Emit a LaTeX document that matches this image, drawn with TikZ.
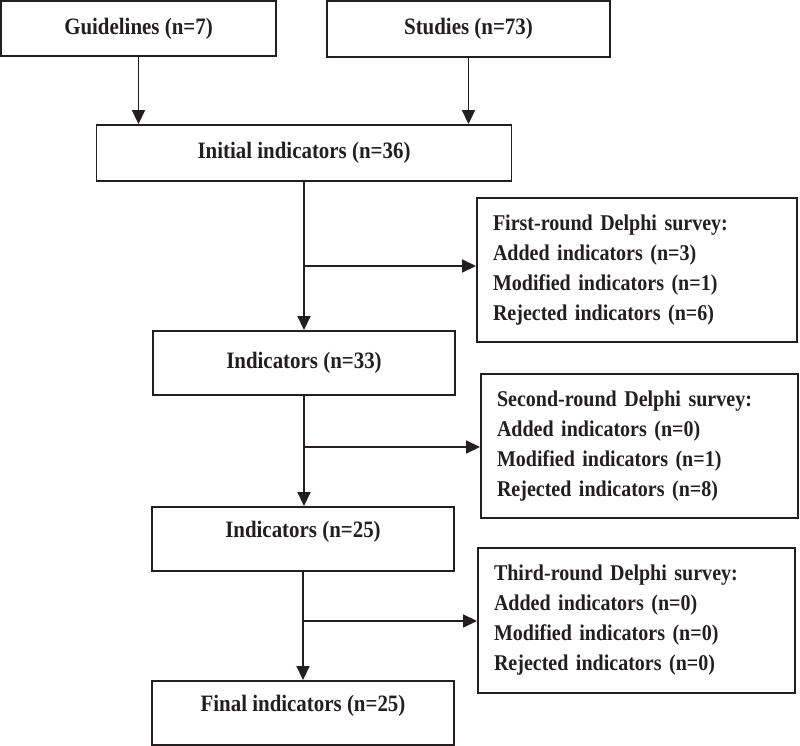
\documentclass[tikz,border=0pt]{standalone}
\usepackage{fontspec}
\setmainfont{Liberation Serif}
\newfontfamily\tallfont[FakeStretch=0.89]{Liberation Serif}
\usetikzlibrary{arrows.meta}
\definecolor{ink}{HTML}{231F20}
\begin{document}
\begin{tikzpicture}[x=1pt,y=-1pt,
  box/.style={draw=ink,line width=1.9pt,rectangle,inner sep=0pt,
    font=\tallfont\fontsize{23.5}{27}\selectfont\bfseries,text=ink},
  listbox/.style={draw=ink,line width=1.9pt,rectangle,inner xsep=15pt,inner ysep=0pt,
    align=left,font=\tallfont\fontsize{22.5}{30}\selectfont\bfseries,text=ink},
  conn/.style={draw=ink,line width=1.7pt,-{Triangle[length=14pt,width=13pt]}}]
\useasboundingbox (0,0) rectangle (800,746);
\node[box,minimum width=275pt,minimum height=55pt] (G) at (138.5,28.5) {Guidelines (n=7)};
\node[box,minimum width=283pt,minimum height=56pt] (S) at (468.5,29) {Studies (n=73)};
\node[box,minimum width=415pt,minimum height=56pt] (I) at (304,153) {Initial indicators (n=36)};
\node[listbox,minimum width=320pt,minimum height=144pt,text width=288pt] (F1) at (637,270)
  {First-round Delphi survey:\\Added indicators (n=3)\\Modified indicators (n=1)\\Rejected indicators (n=6)};
\node[box,minimum width=302pt,minimum height=64pt] (N33) at (304,363) {Indicators (n=33)};
\node[listbox,minimum width=317pt,minimum height=144pt,text width=285pt] (F2) at (639.5,446)
  {Second-round Delphi survey:\\Added indicators (n=0)\\Modified indicators (n=1)\\Rejected indicators (n=8)};
\node[box,minimum width=302pt,minimum height=64pt,text depth=19pt] (N25) at (303,539) {Indicators (n=25)};
\node[listbox,minimum width=317pt,minimum height=145pt,text width=285pt] (F3) at (636.5,620.5)
  {Third-round Delphi survey:\\Added indicators (n=0)\\Modified indicators (n=0)\\Rejected indicators (n=0)};
\node[box,minimum width=302pt,minimum height=64pt,text depth=19pt] (Fin) at (303,713) {Final indicators (n=25)};
% top arrows
\draw[conn] (G.south) -- (G.south |- I.north);
\draw[conn] (S.south) -- (S.south |- I.north);
% main flow
\draw[conn] (I.south) -- (I.south |- N33.north);
\coordinate (b1) at (304,266);
\draw[conn] (b1) -- (b1 -| F1.west);
\draw[conn] (N33.south) -- (N33.south |- N25.north);
\coordinate (b2) at (304,447);
\draw[conn] (b2) -- (b2 -| F2.west);
\draw[conn] (N25.south) -- (N25.south |- Fin.north);
\coordinate (b3) at (303,621);
\draw[conn] (b3) -- (b3 -| F3.west);
\end{tikzpicture}
\end{document}
